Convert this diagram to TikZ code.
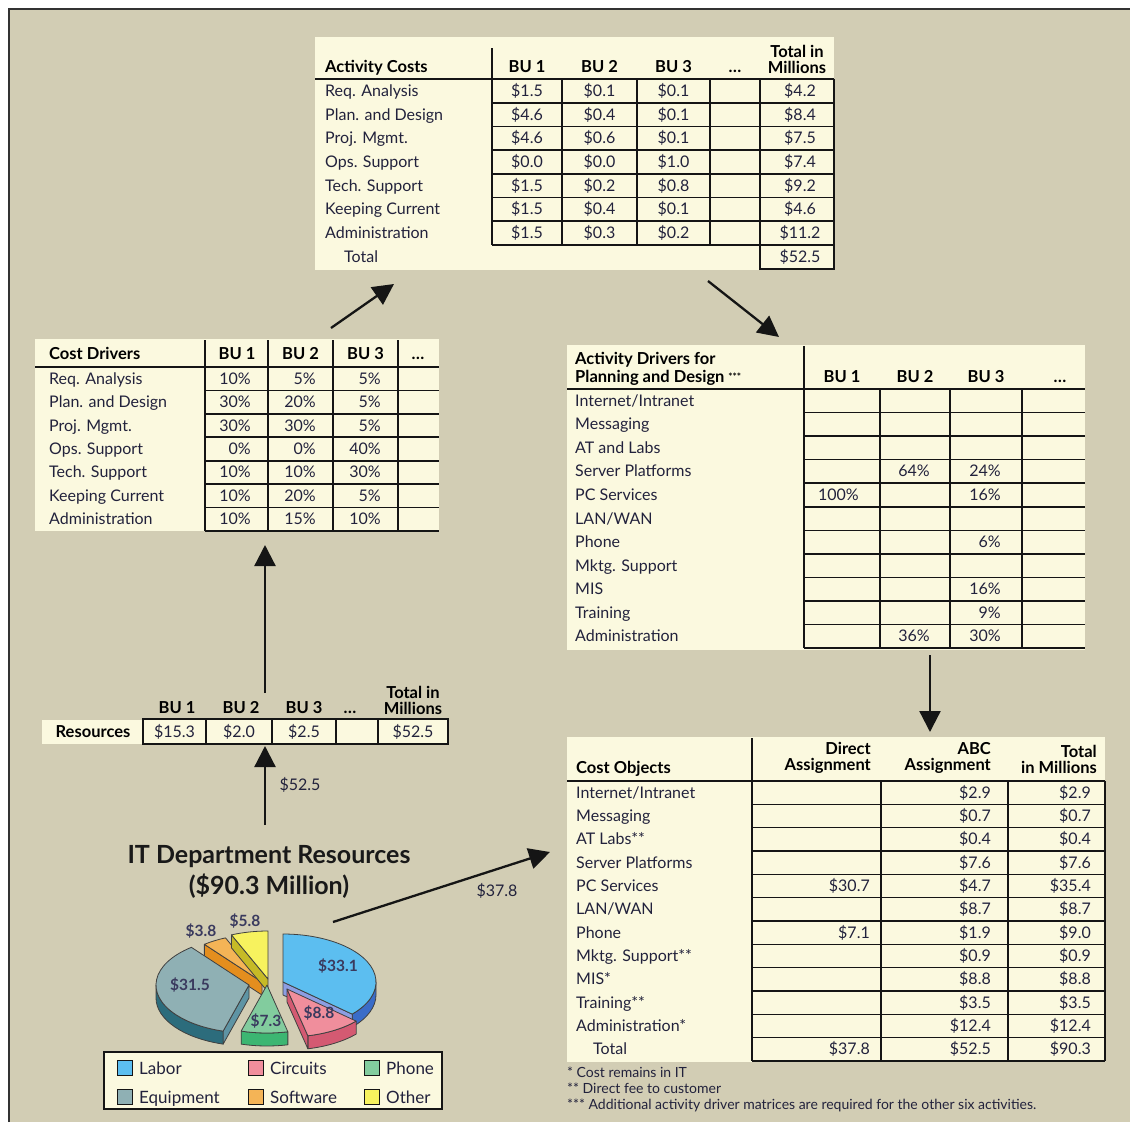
\documentclass[tikz,border=0pt]{standalone}
\usepackage{fontspec}
\setmainfont{Lato}
\usetikzlibrary{arrows.meta}

\definecolor{paper}{HTML}{D2CDB4}
\definecolor{cream}{HTML}{FBF9DF}
\definecolor{ink}{HTML}{22223C}
\definecolor{rule}{HTML}{151515}
\definecolor{pielabel}{HTML}{3A3A5E}
\definecolor{laborT}{HTML}{5CBEF0}
\definecolor{laborS}{HTML}{3A6CC8}
\definecolor{laborR}{HTML}{8D9EE2}
\definecolor{circT}{HTML}{F08E9C}
\definecolor{circS}{HTML}{D45A72}
\definecolor{phoneT}{HTML}{82CC9E}
\definecolor{phoneS}{HTML}{3CB672}
\definecolor{equipT}{HTML}{8FB0B4}
\definecolor{equipS}{HTML}{2C6C7C}
\definecolor{equipR}{HTML}{5E94A4}
\definecolor{softT}{HTML}{F4B456}
\definecolor{softS}{HTML}{E48E1E}
\definecolor{otherT}{HTML}{F7F25E}
\definecolor{otherS}{HTML}{C6BA26}

\newcommand\tabfont{\fontsize{16}{17}\selectfont}
\newcommand\hdrfont{\fontsize{16.5}{16.5}\selectfont\bfseries}
\newcommand\ellip{\ldots}

% exploded 3-D pie pieces: apex x, apex y (page units), angles, colour
\newcommand\pieface[5]{%
  \begin{scope}[shift={(#1,#2)}, yscale=-1]
    \filldraw[pieedge, fill=#5] (0,0) -- (#3:93 and 48)
      arc[start angle=#3, end angle=#4, x radius=93, y radius=48] -- cycle;
  \end{scope}}
\newcommand\pierim[5]{%
  \begin{scope}[shift={(#1,#2)}, yscale=-1]
    \filldraw[pieedge, fill=#5] (#3:93 and 48)
      arc[start angle=#3, end angle=#4, x radius=93, y radius=48] -- ++(0,-13)
      arc[start angle=#4, end angle=#3, x radius=93, y radius=48] -- cycle;
  \end{scope}}
\newcommand\pieside[4]{%
  \begin{scope}[shift={(#1,#2)}, yscale=-1]
    \filldraw[pieedge, fill=#4] (0,0) -- (#3:93 and 48) -- ++(0,-13) -- (0,-13) -- cycle;
  \end{scope}}

\begin{document}
\begin{tikzpicture}[x=1pt, y=-1pt,
  gridline/.style={draw=rule, line width=1.6pt},
  lbl/.style={anchor=base west, inner sep=0pt, font=\tabfont, text=ink},
  cval/.style={anchor=base, inner sep=0pt, font=\tabfont, text=ink},
  rval/.style={anchor=base east, inner sep=0pt, font=\tabfont, text=ink},
  hdr/.style={inner sep=0pt, font=\hdrfont, text=black},
  flow/.style={draw=rule, line width=2.3pt, -{Triangle[width=21pt,length=21pt]}},
  pieedge/.style={draw=black!75, line width=0.8pt, line join=round},
  pielbl/.style={inner sep=0pt, font=\fontsize{15.5}{15.5}\selectfont\bfseries, text=pielabel},
  leg/.style={anchor=base west, inner sep=0pt, font=\fontsize{17}{17}\selectfont, text=ink},
  foot/.style={anchor=base west, inner sep=0pt, font=\fontsize{14}{14}\selectfont, text=ink},
  ttl/.style={inner sep=0pt, font=\fontsize{25}{28}\selectfont\bfseries, text=black!90}]

\useasboundingbox (0,0) rectangle (1130,1122);
\fill[white] (0,0) rectangle (1130,1122);
\fill[paper] (9,9) rectangle (1130,1122);
\draw[draw=black!80, line width=2pt] (9,1122) -- (9,9) -- (1130,9);

% ---------------- Activity Costs ----------------
\fill[cream] (315,37) rectangle (834,270);
\node[hdr, anchor=base west] (ac-title) at (325,72) {Activity Costs};
\foreach \x/\t [count=\k] in {527/BU 1, 599.5/BU 2, 673.5/BU 3, 735/\ellip}
  \node[hdr, anchor=base] (ac-h\k) at (\x,72) {\t};
\node[hdr, align=center, anchor=south] (ac-htot) at (797,74) {Total in\\Millions};
\draw[gridline] (492,48) -- (492,79);
\draw[gridline] (315,79) -- (834,79);
\foreach \x in {492,562,637,710,760,834} \draw[gridline] (\x,79) -- (\x,245);
\foreach \k in {1,2,3,4,5,6,7} \draw[gridline] (492,79+23.71*\k) -- (834,79+23.71*\k);
\draw[gridline] (760,245) -- (760,269) -- (834,269) -- (834,245);
\foreach \lab/\a/\b/\c/\t [count=\i] in {
  Req. Analysis/\$1.5/\$0.1/\$0.1/\$4.2,
  Plan. and Design/\$4.6/\$0.4/\$0.1/\$8.4,
  Proj. Mgmt./\$4.6/\$0.6/\$0.1/\$7.5,
  Ops. Support/\$0.0/\$0.0/\$1.0/\$7.4,
  Tech. Support/\$1.5/\$0.2/\$0.8/\$9.2,
  Keeping Current/\$1.5/\$0.4/\$0.1/\$4.6,
  Administration/\$1.5/\$0.3/\$0.2/\$11.2} {
  \pgfmathsetmacro\yb{79+23.71*(\i-0.5)+5.5}
  \node[lbl] (ac-l\i) at (325,\yb) {\lab};
  \node[cval] (ac-a\i) at (527,\yb) {\a};
  \node[cval] (ac-b\i) at (599.5,\yb) {\b};
  \node[cval] (ac-c\i) at (673.5,\yb) {\c};
  \node[cval] (ac-t\i) at (800,\yb) {\t};
}
\node[lbl] (ac-ltot) at (344,262.5) {Total};
\node[cval] (ac-tot) at (800,262.5) {\$52.5};

% ---------------- Cost Drivers ----------------
\fill[cream] (35,339) rectangle (439,531);
\node[hdr, anchor=base west] (cd-title) at (49,359) {Cost Drivers};
\foreach \x/\t [count=\k] in {237/BU 1, 300.5/BU 2, 365.5/BU 3, 418/\ellip}
  \node[hdr, anchor=base] (cd-h\k) at (\x,359) {\t};
\draw[gridline] (35,367) -- (439,367);
\foreach \x in {205,268,333,398} \draw[gridline] (\x,340) -- (\x,531);
\foreach \k in {1,2,3,4,5,6,7} \draw[gridline] (205,367+23.43*\k) -- (439,367+23.43*\k);
\foreach \lab/\a/\b/\c [count=\i] in {
  Req. Analysis/10\%/5\%/5\%,
  Plan. and Design/30\%/20\%/5\%,
  Proj. Mgmt./30\%/30\%/5\%,
  Ops. Support/0\%/0\%/40\%,
  Tech. Support/10\%/10\%/30\%,
  Keeping Current/10\%/20\%/5\%,
  Administration/10\%/15\%/10\%} {
  \pgfmathsetmacro\yb{367+23.43*(\i-0.5)+5.5}
  \node[lbl] (cd-l\i) at (49,\yb) {\lab};
  \node[rval] (cd-a\i) at (251,\yb) {\a};
  \node[rval] (cd-b\i) at (316,\yb) {\b};
  \node[rval] (cd-c\i) at (381,\yb) {\c};
}

% ---------------- Activity Drivers ----------------
\fill[cream] (567,345) rectangle (1085,650);
\node[hdr, align=left, anchor=south west, font=\fontsize{16.5}{18}\selectfont\bfseries]
  (ad-title) at (575,386) {Activity Drivers for\\Planning and Design \raisebox{2pt}{\fontsize{10}{10}\selectfont ***}};
\foreach \x/\t [count=\k] in {842/BU 1, 915/BU 2, 986/BU 3, 1060/\ellip}
  \node[hdr, anchor=base] (ad-h\k) at (\x,382) {\t};
\draw[gridline] (804,346) -- (804,389);
\draw[gridline] (567,389) -- (1085,389);
\foreach \x in {804,880,950,1022} \draw[gridline] (\x,389) -- (\x,648);
\foreach \k in {1,2,3,4,5,6,7,8,9,10,11} \draw[gridline] (804,389+23.55*\k) -- (1085,389+23.55*\k);
\foreach \lab/\a/\b/\c [count=\i] in {
  {Internet/Intranet}/{}/{}/{},
  Messaging/{}/{}/{},
  AT and Labs/{}/{}/{},
  Server Platforms/{}/64\%/24\%,
  PC Services/100\%/{}/16\%,
  {LAN/WAN}/{}/{}/{},
  Phone/{}/{}/6\%,
  Mktg. Support/{}/{}/{},
  MIS/{}/{}/16\%,
  Training/{}/{}/9\%,
  Administration/{}/36\%/30\%} {
  \pgfmathsetmacro\yb{389+23.55*(\i-0.5)+5.5}
  \node[lbl] (ad-l\i) at (575,\yb) {\lab};
  \node[rval] (ad-a\i) at (859,\yb) {\a};
  \node[rval] (ad-b\i) at (930,\yb) {\b};
  \node[rval] (ad-c\i) at (1001,\yb) {\c};
}

% ---------------- Cost Objects ----------------
\fill[cream] (567,737) rectangle (1105,1062);
\node[hdr, anchor=base west] (co-title) at (576,773) {Cost Objects};
\node[hdr, align=right, anchor=south east] (co-h1) at (871,774) {Direct\\Assignment};
\node[hdr, align=right, anchor=south east] (co-h2) at (991,774) {ABC\\Assignment};
\node[hdr, align=right, anchor=south east] (co-h3) at (1097,774) {Total\\in Millions};
\draw[gridline] (752,738) -- (752,781);
\draw[gridline] (567,781) -- (1105,781);
\foreach \x in {752,881,1008,1105} \draw[gridline] (\x,781) -- (\x,1061);
\foreach \k in {1,2,3,4,5,6,7,8,9,10,11,12} \draw[gridline] (752,781+23.33*\k) -- (1105,781+23.33*\k);
\foreach \lab/\a/\b/\c [count=\i] in {
  {Internet/Intranet}/{}/\$2.9/\$2.9,
  Messaging/{}/\$0.7/\$0.7,
  AT Labs**/{}/\$0.4/\$0.4,
  Server Platforms/{}/\$7.6/\$7.6,
  PC Services/\$30.7/\$4.7/\$35.4,
  {LAN/WAN}/{}/\$8.7/\$8.7,
  Phone/\$7.1/\$1.9/\$9.0,
  Mktg. Support**/{}/\$0.9/\$0.9,
  MIS*/{}/\$8.8/\$8.8,
  Training**/{}/\$3.5/\$3.5,
  Administration*/{}/\$12.4/\$12.4,
  \hspace*{17pt}Total/\$37.8/\$52.5/\$90.3} {
  \pgfmathsetmacro\yb{781+23.33*(\i-0.5)+5.5}
  \node[lbl] (co-l\i) at (576,\yb) {\lab};
  \node[rval] (co-a\i) at (870,\yb) {\a};
  \node[rval] (co-b\i) at (991,\yb) {\b};
  \node[rval] (co-c\i) at (1091,\yb) {\c};
}
\node[foot] (fn1) at (567,1077) {* Cost remains in IT};
\node[foot] (fn2) at (567,1093) {** Direct fee to customer};
\node[foot] (fn3) at (567,1109) {*** Additional activity driver matrices are required for the other six activities.};

% ---------------- Resources row ----------------
\fill[cream] (42,720) rectangle (143,744);
\node[hdr] (res-lbl) at (93,732) {Resources};
\filldraw[gridline, fill=cream] (143,719) rectangle (448,744);
\foreach \x in {206,272,336,378} \draw[gridline] (\x,719) -- (\x,744);
\foreach \x/\t [count=\k] in {177/BU 1, 241/BU 2, 304/BU 3, 350/\ellip}
  \node[hdr, anchor=base] (res-h\k) at (\x,713) {\t};
\node[hdr, align=center, anchor=south] (res-htot) at (413,715) {Total in\\Millions};
\foreach \x/\t [count=\k] in {174.5/\$15.3, 239/\$2.0, 304/\$2.5, 413/\$52.5}
  \node[cval] (res-v\k) at (\x,737.5) {\t};

% ---------------- IT department resources ----------------
\node[ttl] (it-title) at (269,857) {IT Department Resources};
\node[ttl] (it-sub) at (269,886) {(\$90.3 Million)};

% pie, back pieces first
\pieside{262}{982}{128.28}{softS}
\pieface{262}{982}{113.13}{128.28}{softT}
\pieside{268}{979}{113.13}{otherS}
\pieface{268}{979}{90}{113.13}{otherT}
\pierim{283}{982}{-41.96}{0}{laborS}
\pieside{283}{982}{-41.96}{laborR}
\pieface{283}{982}{-41.96}{90}{laborT}
\pierim{249}{985}{180}{253.86}{equipS}
\pieside{249}{985}{253.86}{equipR}
\pieface{249}{985}{128.28}{253.86}{equipT}
\pierim{287}{989}{-77.04}{-41.96}{circS}
\pieside{287}{989}{-77.04}{circS}
\pieface{287}{989}{-77.04}{-41.96}{circT}
\pierim{267}{985}{-106.14}{-77.04}{phoneS}
\pieface{267}{985}{-106.14}{-77.04}{phoneT}

\node[pielbl] (pl-labor) at (338,966) {\$33.1};
\node[pielbl] (pl-equip) at (190,985) {\$31.5};
\node[pielbl] (pl-circ) at (319,1013) {\$8.8};
\node[pielbl] (pl-phone) at (266,1021) {\$7.3};
\node[pielbl] (pl-soft) at (201,931) {\$3.8};
\node[pielbl] (pl-other) at (245,921) {\$5.8};

% legend
\filldraw[draw=rule, line width=1.5pt, fill=cream] (104,1052) rectangle (442,1109);
\foreach \x/\y/\c/\t [count=\k] in {117/1068/laborT/Labor, 248/1068/circT/Circuits, 364/1068/phoneT/Phone,
    117/1097/equipT/Equipment, 248/1097/softT/Software, 364/1097/otherT/Other} {
  \filldraw[draw=rule, line width=1pt, fill=\c] (\x,\y-7.5) rectangle ++(15,15);
  \node[leg] (leg\k) at (\x+22,\y+6) {\t};
}

% ---------------- flow arrows ----------------
\coordinate (pie-out) at (333,922);
\coordinate (co-in) at (550,852);
\coordinate (it-up) at (265,825);
\coordinate (res-in) at (265,746);
\coordinate (res-out) at (265,693);
\coordinate (cd-in) at (265,545);
\coordinate (cd-out) at (331,328);
\coordinate (ac-in) at (394,284);
\coordinate (ac-out) at (708,281);
\coordinate (ad-in) at (779,337);
\coordinate (ad-out) at (930,655);
\coordinate (co-top) at (930,732);
\draw[flow] (it-up) -- (res-in);
\draw[flow] (res-out) -- (cd-in);
\draw[flow] (cd-out) -- (ac-in);
\draw[flow] (ac-out) -- (ad-in);
\draw[flow] (ad-out) -- (co-top);
\draw[flow] (pie-out) -- (co-in);
\node[cval] (lbl-525) at (300,790) {\$52.5};
\node[cval] (lbl-378) at (497,896) {\$37.8};

\end{tikzpicture}
\end{document}
